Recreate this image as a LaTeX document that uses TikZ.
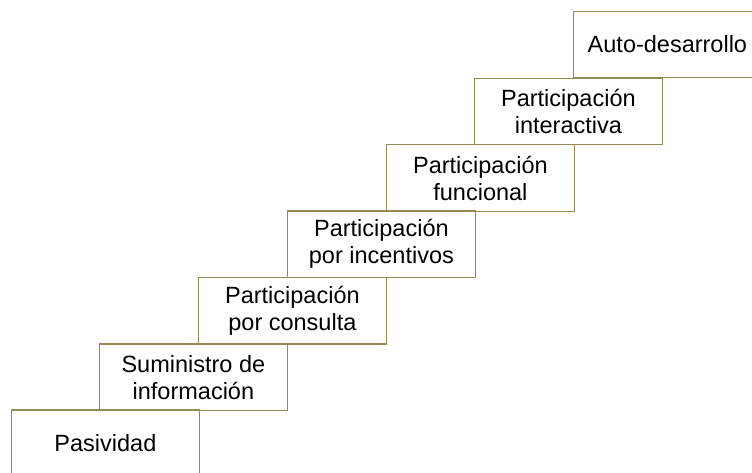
\documentclass[tikz,border=0pt]{standalone}
\usepackage{fontspec}
\setmainfont{Liberation Sans}
\definecolor{olivebox}{RGB}{148,138,84}
\begin{document}
\begin{tikzpicture}[x=1pt,y=1pt,
  stepbox/.style={draw=olivebox, line width=1.3pt, anchor=south west,
    minimum width=187.5pt, minimum height=66.5pt, inner sep=0pt, align=center,
    font=\fontsize{23.5}{27}\selectfont, text=black}]
\useasboundingbox (0,0) rectangle (752,472);
\clip (0,0) rectangle (752,472);
\node[stepbox] (s0) at (11,-5) {Pasividad};
\node[stepbox] (s1) at (99,61) {Suministro de\\información};
\node[stepbox] (s2) at (198,127.5) {Participación\\por consulta};
\node[stepbox] (s3) at (287,194) {Participación\\por incentivos};
\node[stepbox] (s4) at (386,260) {Participación\\funcional};
\node[stepbox] (s5) at (474,326.5) {Participación\\interactiva};
\node[stepbox] (s6) at (573,393.5) {Auto-desarrollo};
\end{tikzpicture}
\end{document}
